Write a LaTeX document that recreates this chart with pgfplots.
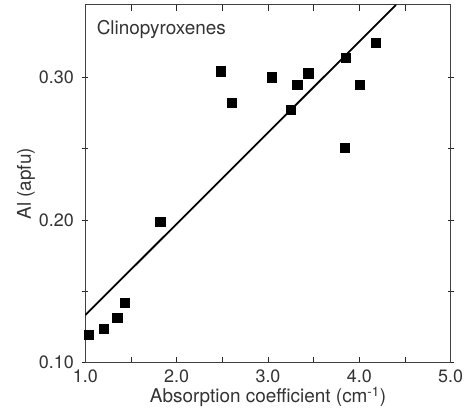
\documentclass[border=0pt]{standalone}
\usepackage{fontspec}
\setmainfont{TeX Gyre Heros}
\usepackage{pgfplots}
\pgfplotsset{compat=1.18}
\begin{document}
\begin{tikzpicture}
\begin{axis}[
  name=ax,
  scale only axis,
  width=365.4bp, height=357.7bp,
  xmin=1, xmax=5, ymin=0.1, ymax=0.351,
  xtick={1,2,3,4,5},
  xticklabels={1.0,2.0,3.0,4.0,5.0},
  minor xtick={1.5,2.5,3.5,4.5},
  ytick={0.1,0.2,0.3},
  yticklabels={0.10,0.20,0.30},
  minor ytick={0.15,0.25},
  xtick align=inside,
  ytick align=center,
  major tick length=6bp,
  minor tick length=6bp,
  every tick/.style={black!85, line width=0.9bp},
  axis line style={line width=1bp, black!75},
  /pgf/number format/assume math mode=true,
  ticklabel style={font=\fontsize{18}{21}\selectfont, text=black!80},
  xticklabel style={yshift=-4bp},
  yticklabel style={xshift=-5bp},
  xlabel={Absorption coefficient (cm\textsuperscript{-1})},
  ylabel={Al (apfu)},
  label style={font=\fontsize{19}{22}\selectfont, text=black!80},
  xlabel style={yshift=3bp},
  ylabel style={yshift=-3bp},
]
\addplot[only marks, mark=square*, mark size=4.6bp, black] coordinates {
  (1.04,0.1199) (1.20,0.1236) (1.35,0.1315) (1.43,0.1423)
  (1.82,0.1990) (2.48,0.3046) (2.60,0.2822) (3.04,0.3004)
  (3.32,0.2953) (3.44,0.3032) (3.25,0.2776) (3.85,0.3140)
  (3.84,0.2509) (4.00,0.2953) (4.18,0.3243)
};
\addplot[black, line width=1.8bp] coordinates {(1.0,0.1334) (4.40,0.351)};
\node[anchor=base west, font=\fontsize{19}{22}\selectfont, text=black!80] at (rel axis cs:0,1) [xshift=8bp, yshift=-30bp] {Clinopyroxenes};
\end{axis}
\pgfresetboundingbox
\path[use as bounding box] ([xshift=-85.3bp, yshift=-55.3bp]ax.south west) rectangle ([xshift=14.3bp, yshift=5bp]ax.north east);
\end{tikzpicture}
\end{document}
